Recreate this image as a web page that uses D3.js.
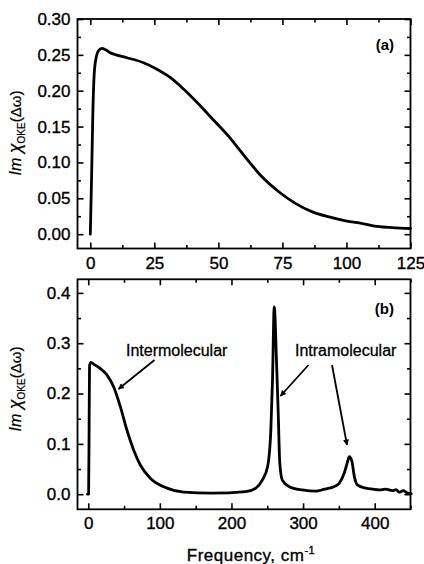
<!DOCTYPE html>
<html>
<head>
<meta charset="utf-8">
<script src="https://cdn.jsdelivr.net/npm/d3@7"></script>
<style>
  html, body { margin: 0; padding: 0; background: #fff; }
  svg { display: block; }
  text { font-family: "Liberation Sans", Arial, Helvetica, sans-serif; fill: #000; }
</style>
</head>
<body>
<svg id="chart" width="424" height="564"></svg>
<script>
// ---------- data ----------
const freqA = [0, 0.5, 1.0, 1.6, 2.4, 3.2, 4.5, 6, 7.8, 10, 14.3, 20.8, 26, 31.2, 36.4, 41.6, 47.6, 54.1, 60.6, 67.1, 73.7, 80.2, 86.7, 93.2, 99.7, 106.2, 112.7, 118, 125];
const chiA  = [0, 0.08, 0.17, 0.228, 0.248, 0.256, 0.259, 0.257, 0.253, 0.250, 0.246, 0.239, 0.230, 0.2185, 0.2023, 0.1838, 0.161, 0.136, 0.107, 0.0796, 0.0588, 0.0426, 0.031, 0.024, 0.0185, 0.0148, 0.0105, 0.0092, 0.0079];

const freqB = [-1, 0.5, 1.2, 1.8, 3.7, 8, 16.6, 26, 35.4, 44.8, 54, 63.4, 72.7, 86.7, 110, 133, 173, 220, 234, 243, 250.5, 255, 257.3, 259.7, 263, 265.3, 267.5, 271, 280.7, 299, 318, 330, 336.6, 345, 350.6, 357.5, 362.2, 364.5, 368.2, 371.6, 376.2, 387.8, 397, 406.5, 415, 425, 430, 434, 440, 445, 451];
const chiB  = [0, 0, 0.13, 0.255, 0.262, 0.258, 0.250, 0.237, 0.2135, 0.174, 0.1276, 0.088, 0.058, 0.0317, 0.012, 0.004, 0.002, 0.005, 0.012, 0.028, 0.055, 0.128, 0.227, 0.372, 0.26, 0.16, 0.0615, 0.028, 0.015, 0.0085, 0.006, 0.010, 0.012, 0.016, 0.022, 0.042, 0.065, 0.0746, 0.065, 0.035, 0.018, 0.012, 0.010, 0.0085, 0.010, 0.007, 0.009, 0.004, 0.007, 0.003, 0.001];

const xTicksA = [0, 25, 50, 75, 100, 125];
const yTicksA = [0.00, 0.05, 0.10, 0.15, 0.20, 0.25, 0.30];
const xTicksB = [0, 100, 200, 300, 400];
const yTicksB = [0.0, 0.1, 0.2, 0.3, 0.4];

// ---------- drawing ----------
const svg = d3.select("#chart");
const L = 77.5, R = 410.5;

function panel(cfg) {
  const x = d3.scaleLinear().domain(cfg.xDom).range([L, R]);
  const y = d3.scaleLinear().domain(cfg.yDom).range([cfg.bottom, cfg.top]);
  const g = svg.append("g");

  const minorX = d3.range(cfg.xDom[0], cfg.xDom[1] + 1e-9, cfg.xMinor).map(v => Math.round(v / cfg.xMinor) * cfg.xMinor)
      .filter(v => v >= cfg.xDom[0] && v <= cfg.xDom[1] && !cfg.xTicks.some(t => Math.abs(t - v) < 1e-9));
  const yMinorStart = Math.ceil(cfg.yDom[0] / cfg.yMinor) * cfg.yMinor;
  const minorY = d3.range(yMinorStart, cfg.yDom[1] + 1e-9, cfg.yMinor)
      .filter(v => !cfg.yTicks.some(t => Math.abs(t - v) < 1e-9));

  const styleAxis = sel => {
    sel.select(".domain").remove();
    sel.selectAll("line").attr("stroke", "#000").attr("stroke-width", 1.6);
    sel.selectAll("text").attr("font-size", 17).attr("fill", "#000")
       .attr("stroke", "#000").attr("stroke-width", 0.35).attr("font-family", '"Liberation Sans", Arial, sans-serif');
  };

  // bottom axis with labels
  g.append("g").attr("transform", `translate(0,${cfg.bottom})`)
    .call(d3.axisBottom(x).tickValues(cfg.xTicks).tickFormat(cfg.xFmt).tickSize(-6).tickPadding(cfg.xPad))
    .call(styleAxis);
  g.append("g").attr("transform", `translate(0,${cfg.bottom})`)
    .call(d3.axisBottom(x).tickValues(minorX).tickFormat("").tickSize(-3.5)).call(styleAxis);
  // top mirror
  g.append("g").attr("transform", `translate(0,${cfg.top})`)
    .call(d3.axisTop(x).tickValues(cfg.xTicks).tickFormat("").tickSize(-6)).call(styleAxis);
  g.append("g").attr("transform", `translate(0,${cfg.top})`)
    .call(d3.axisTop(x).tickValues(minorX).tickFormat("").tickSize(-3.5)).call(styleAxis);
  // left axis with labels
  g.append("g").attr("transform", `translate(${L},0)`)
    .call(d3.axisLeft(y).tickValues(cfg.yTicks).tickFormat(cfg.yFmt).tickSize(-6).tickPadding(7))
    .call(styleAxis);
  g.append("g").attr("transform", `translate(${L},0)`)
    .call(d3.axisLeft(y).tickValues(minorY).tickFormat("").tickSize(-3.5)).call(styleAxis);
  // right mirror
  g.append("g").attr("transform", `translate(${R},0)`)
    .call(d3.axisRight(y).tickValues(cfg.yTicks).tickFormat("").tickSize(-6)).call(styleAxis);
  g.append("g").attr("transform", `translate(${R},0)`)
    .call(d3.axisRight(y).tickValues(minorY).tickFormat("").tickSize(-3.5)).call(styleAxis);

  // frame
  g.append("rect").attr("x", L).attr("y", cfg.top).attr("width", R - L).attr("height", cfg.bottom - cfg.top)
    .attr("fill", "none").attr("stroke", "#000").attr("stroke-width", 1.8);

  // curve
  const line = d3.line().x(d => x(d[0])).y(d => y(d[1])).curve(d3.curveMonotoneX);
  g.append("path").datum(cfg.xs.map((v, i) => [v, cfg.ys[i]]))
    .attr("d", line).attr("fill", "none").attr("stroke", "#000")
    .attr("stroke-width", 2.8).attr("stroke-linejoin", "round").attr("stroke-linecap", "round");

  // panel label
  g.append("text").attr("x", 394).attr("y", cfg.labelY).attr("text-anchor", "end")
    .attr("font-size", 15).attr("font-weight", "bold").text(cfg.label);

  // y axis title
  const t = g.append("text")
    .attr("transform", `translate(21,${cfg.titleY}) rotate(-90)`)
    .attr("text-anchor", "middle").attr("font-size", 16).attr("stroke", "#000").attr("stroke-width", 0.2);
  t.append("tspan").attr("font-style", "italic").text("Im ");
  t.append("tspan").attr("font-style", "italic").attr("font-size", 18).text("χ");
  t.append("tspan").attr("font-size", 10).attr("dy", 4).text("OKE");
  t.append("tspan").attr("dy", -4).attr("font-size", 15).text("(Δω)");

  return { x, y, g };
}

const pA = panel({
  xDom: [-5, 125], yDom: [-0.02, 0.30], top: 19, bottom: 248.5,
  xTicks: xTicksA, yTicks: yTicksA, xMinor: 12.5, yMinor: 0.025,
  xFmt: d3.format("d"), yFmt: d3.format(".2f"), xPad: 8,
  xs: freqA, ys: chiA, label: "(a)", labelY: 50, titleY: 133
});

const pB = panel({
  xDom: [-15, 450], yDom: [-0.03, 0.427], top: 279.3, bottom: 509.3,
  xTicks: xTicksB, yTicks: yTicksB, xMinor: 50, yMinor: 0.05,
  xFmt: d3.format("d"), yFmt: d3.format(".1f"), xPad: 8,
  xs: freqB, ys: chiB, label: "(b)", labelY: 314, titleY: 389
});

// x axis title
const xt = svg.append("text").attr("x", 251).attr("y", 561).attr("text-anchor", "middle")
  .attr("font-size", 17).attr("stroke", "#000").attr("stroke-width", 0.35).attr("letter-spacing", 0.5);
xt.append("tspan").text("Frequency, cm");
xt.append("tspan").attr("font-size", 11).attr("dy", -7).text("-1");

// annotations
const defs = svg.append("defs");
defs.append("marker").attr("id", "ah").attr("viewBox", "0 0 10 10").attr("refX", 9).attr("refY", 5)
  .attr("markerWidth", 10).attr("markerHeight", 6).attr("markerUnits", "userSpaceOnUse").attr("orient", "auto")
  .append("path").attr("d", "M0,0 L10,5 L0,10 Z").attr("fill", "#000");

const ann = svg.append("g");
ann.append("text").attr("x", 126).attr("y", 355.5).attr("font-size", 16)
  .attr("stroke", "#000").attr("stroke-width", 0.3).text("Intermolecular");
ann.append("text").attr("x", 295).attr("y", 355.5).attr("font-size", 16)
  .attr("stroke", "#000").attr("stroke-width", 0.3).text("Intramolecular");

const arrows = [
  [[154.5, 360], [118.5, 389]],
  [[308.5, 365], [280.5, 396]],
  [[332, 365], [347, 445]]
];
arrows.forEach(a => {
  ann.append("line").attr("x1", a[0][0]).attr("y1", a[0][1]).attr("x2", a[1][0]).attr("y2", a[1][1])
    .attr("stroke", "#000").attr("stroke-width", 1.8).attr("marker-end", "url(#ah)");
});
</script>
</body>
</html>
